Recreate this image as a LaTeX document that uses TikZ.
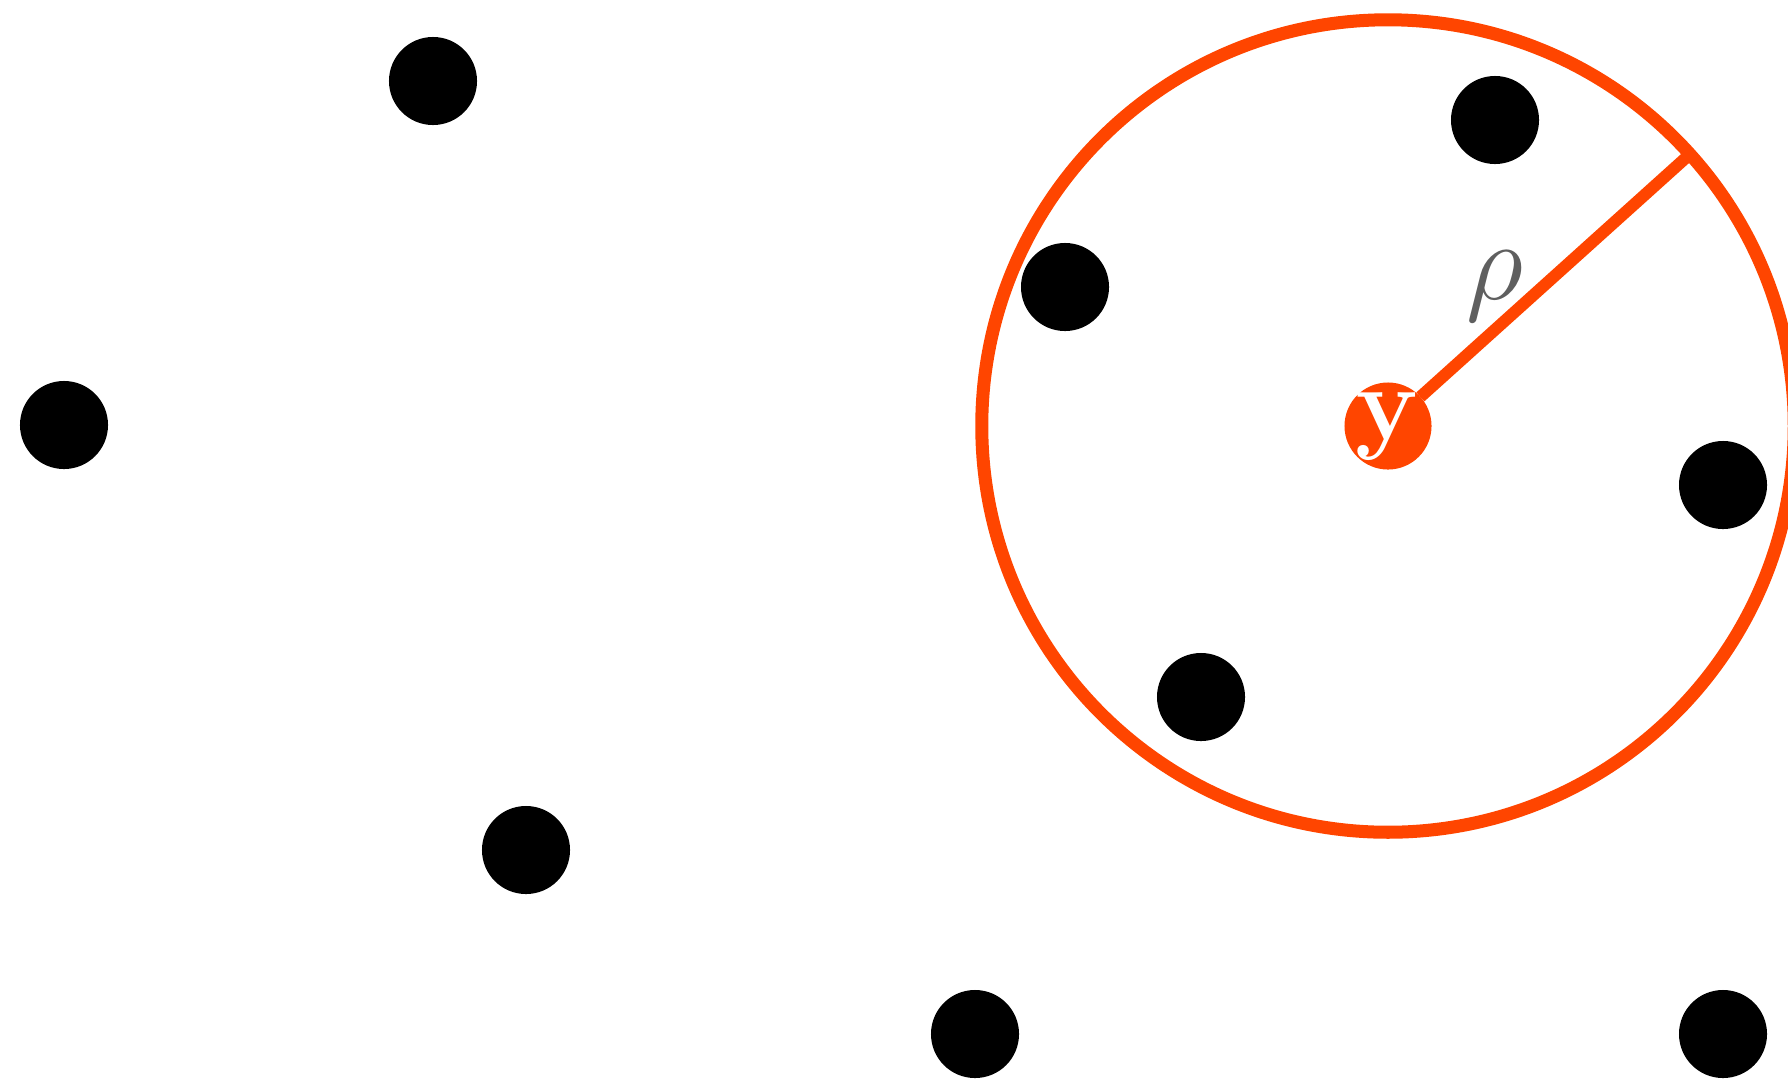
\RequirePackage{fix-cm}
\documentclass[tikz,border=0pt]{standalone}
\definecolor{vorange}{HTML}{FF4500}
\definecolor{rhogray}{HTML}{5F5F5F}
\newcommand{\overtext}[1]{\smash{\raisebox{-0.125em}{\makebox[0pt]{#1}}}}
\begin{document}
\begin{tikzpicture}[x=0.01cm,y=-0.01cm,
  dot/.style={circle,fill=black,minimum size=0.88cm,inner sep=0pt,outer sep=0pt},
  vdot/.style={circle,fill=vorange,minimum size=0.87cm,inner sep=0pt,outer sep=0pt,text=white,font=\fontsize{30}{36}\selectfont},
  ring/.style={circle,draw=vorange,line width=0.13cm,minimum size=8.12cm,inner sep=0pt,outer sep=0pt},
  radiusline/.style={draw=vorange,line width=0.12cm},
  rholabel/.style={text=rhogray,font=\fontsize{32}{38}\selectfont,inner sep=0pt}]
\useasboundingbox (0,0) rectangle (1788,1078);
\node[ring] (c) at (1388,426) {};
\node[dot] (d1) at (433,81) {};
\node[dot] (d2) at (1495,120) {};
\node[dot] (d3) at (1065,287) {};
\node[dot] (d4) at (64,425) {};
\node[dot] (d5) at (1723,485) {};
\node[dot] (d6) at (1201,697) {};
\node[dot] (d7) at (526,850) {};
\node[dot] (d8) at (975,1034) {};
\node[dot] (d9) at (1723,1034) {};
\node[vdot] (v) at (1388,426) {\overtext{$\mathbf{y}$}};
\draw[radiusline] (v) -- node[rholabel,pos=0.357,xshift=-0.214cm,yshift=0.238cm] (rho) {$\rho$} (c.42);
\end{tikzpicture}
\end{document}
